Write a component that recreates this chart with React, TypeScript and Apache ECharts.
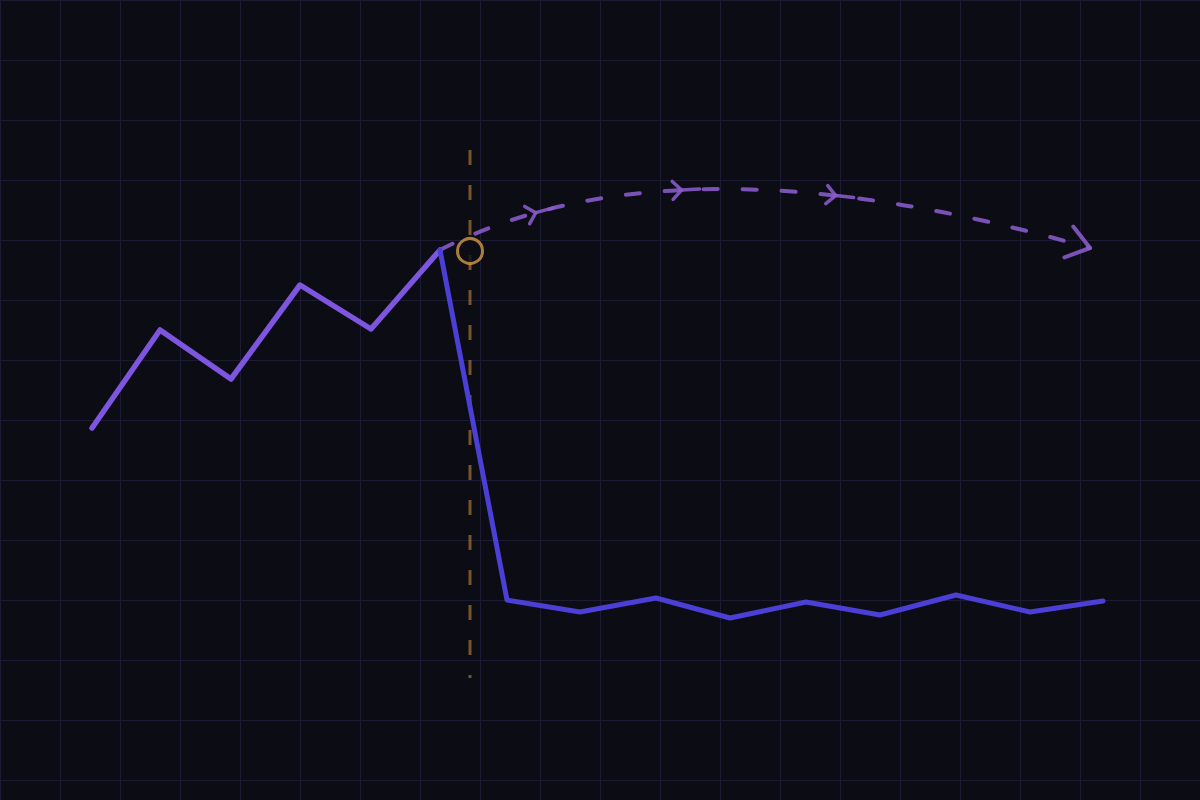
import { useEffect, useRef } from 'react'
import * as echarts from 'echarts'

// x positions shared by both segments (peak is index 5)
const X_POS = [92, 160, 231, 300, 371, 440, 507, 580, 656, 730, 806, 880, 956, 1030, 1103]
const BEFORE = [428, 330, 379, 285, 329, 250]
const AFTER = [250, 600, 612, 598, 618, 602, 615, 595, 612, 601]
const PEAK = 5

// projected path: quadratic curve from the peak, with its control and end point
const CURVE_CTRL = [675, 129]
const CURVE_END = [1090, 248]
const ARROW_T = [0.19, 0.44, 0.67]

// marker at the break
const MARKER = [470, 251]
const GUIDE_Y = [150, 678]

const BG = '#0c0c15'
const GRID = '#1d1b33'
const PURPLE = '#7d55de'
const BLUE = '#4b3fd6'
const PATH = 'rgba(138,92,204,0.88)'
const ORANGE = '#d29a48'

export default function App() {
  const ref = useRef<HTMLDivElement>(null)

  useEffect(() => {
    if (!ref.current) return
    document.body.style.margin = '0'
    const chart = echarts.init(ref.current, undefined, { renderer: 'svg' })

    const renderPath = (_params: any, api: any) => {
      const p0 = api.coord([X_POS[PEAK], BEFORE[PEAK]])
      const cp = api.coord(CURVE_CTRL)
      const p2 = api.coord(CURVE_END)
      const at = (t: number) => [0, 1].map((k) => (1 - t) * (1 - t) * p0[k] + 2 * t * (1 - t) * cp[k] + t * t * p2[k])
      const dir = (t: number) => {
        const d = [0, 1].map((k) => 2 * (1 - t) * (cp[k] - p0[k]) + 2 * t * (p2[k] - cp[k]))
        const l = Math.hypot(d[0], d[1])
        return [d[0] / l, d[1] / l]
      }
      const stroke = (w: number) => ({ stroke: PATH, lineWidth: w, fill: 'none', lineCap: 'round', lineJoin: 'round' })
      const chevron = (v: number[], u: number[], a: number, b: number, s: number, w: number) => {
        const n = [-u[1], u[0]]
        const out: any[] = [
          {
            type: 'polyline',
            shape: {
              points: [
                [v[0] - a * u[0] + b * n[0], v[1] - a * u[1] + b * n[1]],
                v,
                [v[0] - a * u[0] - b * n[0], v[1] - a * u[1] - b * n[1]],
              ],
            },
            style: stroke(w),
          },
        ]
        if (s > 0) {
          out.push({
            type: 'line',
            shape: { x1: v[0], y1: v[1], x2: v[0] + s * u[0], y2: v[1] + s * u[1] },
            style: stroke(w),
          })
        }
        return out
      }
      return {
        type: 'group',
        children: [
          {
            type: 'bezierCurve',
            shape: { x1: p0[0], y1: p0[1], x2: p2[0], y2: p2[1], cpx1: cp[0], cpy1: cp[1] },
            style: { ...stroke(4), lineDash: [14, 25] },
          },
          ...ARROW_T.flatMap((t) => chevron(at(t), dir(t), 9, 9, 18, 3.5)),
          ...chevron(p2, dir(1), 22, 16, 0, 4),
        ],
      }
    }

    const axisBase = {
      type: 'value' as const,
      interval: 60,
      axisLine: { show: false },
      axisTick: { show: false },
      axisLabel: { show: false },
      splitLine: { show: true, lineStyle: { color: GRID, width: 1 } },
    }

    chart.setOption({
      animation: false,
      backgroundColor: BG,
      grid: { left: 0, right: 0, top: 0, bottom: 0 },
      xAxis: { ...axisBase, min: 0, max: 1200 },
      yAxis: { ...axisBase, min: 0, max: 800, inverse: true },
      series: [
        {
          type: 'line',
          z: 2,
          symbol: 'none',
          data: GUIDE_Y.map((y) => [MARKER[0], y]),
          lineStyle: { color: 'rgba(190,135,60,0.6)', width: 3, type: [15, 20] },
        },
        {
          type: 'custom',
          coordinateSystem: 'cartesian2d',
          z: 3,
          data: [[X_POS[PEAK], BEFORE[PEAK]]],
          renderItem: renderPath,
        },
        {
          type: 'line',
          z: 4,
          symbol: 'none',
          data: BEFORE.map((v, i) => [X_POS[i], v]),
          lineStyle: { color: PURPLE, width: 5.5, join: 'round', cap: 'round' },
        },
        {
          type: 'line',
          z: 4,
          symbol: 'none',
          data: AFTER.map((v, i) => [X_POS[PEAK + i], v]),
          lineStyle: { color: BLUE, width: 5, join: 'round', cap: 'round' },
        },
        {
          type: 'scatter',
          z: 5,
          symbol: 'circle',
          symbolSize: 25,
          itemStyle: { color: BG, borderColor: ORANGE, borderWidth: 3 },
          data: [MARKER],
        },
      ],
    })

    return () => chart.dispose()
  }, [])

  return <div ref={ref} style={{ position: 'fixed', left: 0, top: 0, width: 1200, height: 800 }} />
}
